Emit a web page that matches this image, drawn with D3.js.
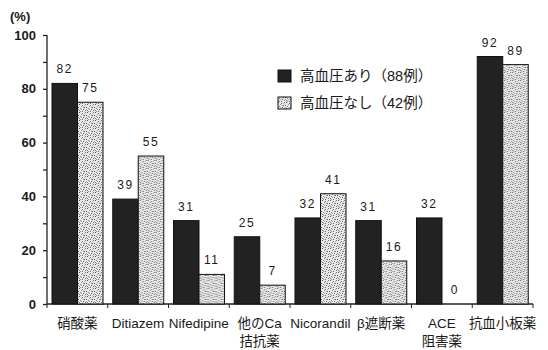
<!DOCTYPE html>
<html>
<head>
<meta charset="utf-8">
<script src="https://cdn.jsdelivr.net/npm/d3@7"></script>
<style>
  body { margin: 0; background: #fff; }
  svg { display: block; }
  text { font-family: "Liberation Sans", "Noto Sans CJK JP", sans-serif; fill: #1a1a1a; }
</style>
</head>
<body>
<svg width="548" height="350"></svg>
<script>
var categories = [["硝酸薬"], ["Ditiazem"], ["Nifedipine"], ["他のCa", "拮抗薬"], ["Nicorandil"], ["β遮断薬"], ["ACE", "阻害薬"], ["抗血小板薬"]];
var withHT = [82, 39, 31, 25, 32, 31, 32, 92];
var withoutHT = [75, 55, 11, 7, 41, 16, 0, 89];
var seriesNames = ["高血圧あり（88例）", "高血圧なし（42例）"];
var yTicks = [0, 20, 40, 60, 80, 100];

var svg = d3.select("svg");

// stipple fill, irregular dot layout so it reads as grain rather than lines
var dots = [[0,0,"#555"],[3,1,"#777"],[5,3,"#666"],[1,4,"#888"],[4,5,"#666"],[2,2,"#999"],[6,0,"#777"],[7,3,"#555"],[0,6,"#777"],[3,7,"#666"],[6,6,"#888"],[1,7,"#999"],[5,1,"#aaa"],[7,5,"#999"],[2,5,"#aaa"],[4,3,"#999"]];
var pat = svg.append("defs").append("pattern")
    .attr("id", "stipple")
    .attr("width", 8).attr("height", 8)
    .attr("patternUnits", "userSpaceOnUse");
pat.append("rect").attr("width", 8).attr("height", 8).attr("fill", "#e8e8e8");
pat.selectAll("rect.dot")
    .data(dots)
    .enter()
    .append("rect")
    .attr("class", "dot")
    .attr("x", function(d) { return d[0]; })
    .attr("y", function(d) { return d[1]; })
    .attr("width", 1).attr("height", 1)
    .attr("fill", function(d) { return d[2]; });

var fills = ["#222", "url(#stipple)"];

var xScale = d3.scaleBand()
    .domain(d3.range(categories.length))
    .range([47, 533]);

var xInner = d3.scaleBand()
    .domain([0, 1])
    .range([5, 56]);

var yScale = d3.scaleLinear()
    .domain([0, 100])
    .range([304, 35]);

// y axis
var gY = svg.append("g").attr("transform", "translate(47,0)");
gY.call(d3.axisLeft(yScale).tickValues(d3.range(0, 101, 10)).tickSize(4).tickFormat(""));
gY.selectAll("path, line").attr("stroke", "#222").attr("stroke-width", 1.3);
gY.select(".domain").attr("d", "M0," + yScale(0) + "V" + yScale(100));
gY.selectAll(".ylab")
    .data(yTicks)
    .enter()
    .append("text")
    .attr("x", -11)
    .attr("y", function(d) { return yScale(d) + 4.5; })
    .attr("text-anchor", "end")
    .attr("font-size", 13)
    .attr("font-weight", "bold")
    .text(function(d) { return d; });

svg.append("text")
    .attr("x", 10).attr("y", 21)
    .attr("font-size", 13)
    .attr("font-weight", "bold")
    .text("(%)");

// x axis
var gX = svg.append("g").attr("transform", "translate(0," + yScale(0) + ")");
gX.append("line").attr("x1", 47).attr("x2", 533).attr("stroke", "#222").attr("stroke-width", 1.3);
gX.selectAll(".xtick")
    .data(d3.range(categories.length + 1))
    .enter()
    .append("line")
    .attr("x1", function(d) { return 47 + d * xScale.step(); })
    .attr("x2", function(d) { return 47 + d * xScale.step(); })
    .attr("y1", 0).attr("y2", 4)
    .attr("stroke", "#222");

var groups = svg.selectAll(".grp")
    .data(categories)
    .enter()
    .append("g")
    .attr("transform", function(d, i) { return "translate(" + xScale(i) + ",0)"; });

var series = [withHT, withoutHT];
series.forEach(function(vals, s) {
    groups.append("rect")
        .attr("x", xInner(s))
        .attr("y", function(d, i) { return yScale(vals[i]); })
        .attr("width", xInner.bandwidth())
        .attr("height", function(d, i) { return yScale(0) - yScale(vals[i]); })
        .attr("fill", fills[s])
        .attr("stroke", "#111")
        .attr("stroke-width", 1);
    groups.append("text")
        .attr("x", xInner(s) + xInner.bandwidth() / 2)
        .attr("y", function(d, i) { return yScale(vals[i]) - 10; })
        .attr("text-anchor", "middle")
        .attr("font-size", 12)
        .attr("letter-spacing", 1.5)
        .text(function(d, i) { return vals[i]; });
});

groups.each(function(lines) {
    var g = d3.select(this);
    lines.forEach(function(t, j) {
        g.append("text")
            .attr("x", xScale.bandwidth() / 2)
            .attr("y", 328 + j * 18)
            .attr("text-anchor", "middle")
            .attr("font-size", 13.5)
            .attr("fill", "#2a2a2a")
            .text(t);
    });
});

// legend
var legend = svg.append("g").attr("transform", "translate(278,70)");
seriesNames.forEach(function(name, i) {
    legend.append("rect")
        .attr("x", 0).attr("y", i * 27)
        .attr("width", 13).attr("height", 12)
        .attr("fill", fills[i])
        .attr("stroke", "#111");
    legend.append("text")
        .attr("x", 22).attr("y", i * 27 + 11)
        .attr("font-size", 14.5)
        .text(name);
});
</script>
</body>
</html>
